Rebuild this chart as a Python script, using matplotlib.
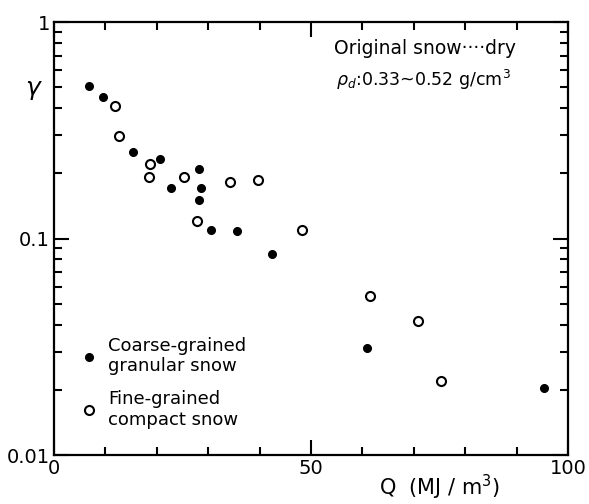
import matplotlib.pyplot as plt
from matplotlib.ticker import FixedLocator, NullFormatter

# Datos
q_coarse = [6.9, 9.5, 15.3, 20.7, 22.8, 28.3, 28.6, 28.3, 30.5, 35.7, 42.4, 60.9, 95.4]
g_coarse = [0.505, 0.449, 0.252, 0.232, 0.172, 0.209, 0.172, 0.151, 0.109, 0.108, 0.0848, 0.0311, 0.0205]

q_fine = [11.9, 12.6, 18.7, 18.5, 25.2, 27.8, 34.2, 39.7, 48.2, 61.5, 70.9, 75.3]
g_fine = [0.408, 0.297, 0.222, 0.192, 0.192, 0.120, 0.182, 0.187, 0.110, 0.0542, 0.0416, 0.0220]

etiqueta_coarse = "Coarse-grained\ngranular snow"
etiqueta_fine = "Fine-grained\ncompact snow"

fig = plt.figure(figsize=(5.89, 5.04), dpi=100)
ax = fig.add_axes([0.0917, 0.0972, 0.8726, 0.8591])

ax.plot(q_coarse, g_coarse, "o", color="black", markersize=5.5, linestyle="none",
        label=etiqueta_coarse)
ax.plot(q_fine, g_fine, "o", markerfacecolor="white", markeredgecolor="black",
        markeredgewidth=1.5, markersize=6.5, linestyle="none", label=etiqueta_fine)

ax.set_yscale("log")
ax.set_xlim(0, 100)
ax.set_ylim(0.01, 1)

# Ejes y ticks
for s in ax.spines.values():
    s.set_linewidth(1.6)

ax.xaxis.set_major_locator(FixedLocator([0, 50, 100]))
ax.xaxis.set_minor_locator(FixedLocator([10, 20, 30, 40, 60, 70, 80, 90]))
ax.set_xticklabels(["0", "50", "100"])
ax.yaxis.set_major_locator(FixedLocator([0.01, 0.1, 1]))
ax.yaxis.set_minor_locator(FixedLocator(
    [k * 0.01 for k in range(2, 10)] + [k * 0.1 for k in range(2, 10)]))
ax.yaxis.set_minor_formatter(NullFormatter())
ax.set_yticklabels(["0.01", "0.1", "1"])

ax.tick_params(which="both", direction="in", top=True, right=True, width=1.5,
               labelsize=14, pad=3)
ax.tick_params(which="major", length=11)
ax.tick_params(which="minor", length=6)

ax.set_xlabel("Q  (MJ / m$^3$)", fontsize=15)
ax.xaxis.set_label_coords(0.751, -0.04)
ax.set_ylabel("γ", fontsize=18, rotation=0, fontstyle="italic")
ax.yaxis.set_label_coords(-0.041, 0.82)

ax.text(0.722, 0.938, "Original snow····dry", transform=ax.transAxes,
        ha="center", va="center", fontsize=13.5)
ax.text(0.718, 0.866, r"$\rho_d$:0.33~0.52 g/cm$^3$", transform=ax.transAxes,
        ha="center", va="center", fontsize=12.5)

ax.legend(loc="lower left", bbox_to_anchor=(0.025, 0.036), frameon=False, fontsize=13,
          handletextpad=0.5, labelspacing=0.8, borderaxespad=0.2, handlelength=1.2)

plt.savefig("out.png", dpi=100)
